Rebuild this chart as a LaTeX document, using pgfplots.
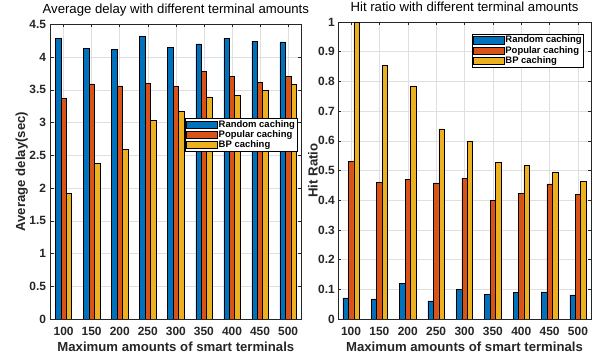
\documentclass[border=0pt]{standalone}
\usepackage{fontspec}
\setmainfont{Liberation Sans}
\usepackage{pgfplots}
\pgfplotsset{compat=1.18}
\definecolor{c1}{RGB}{0,114,189}
\definecolor{c2}{RGB}{217,83,25}
\definecolor{c3}{RGB}{237,177,32}
\definecolor{axc}{RGB}{38,38,38}
\definecolor{gridc}{RGB}{223,223,223}

\pgfplotstableread{
x rnd pop bp
1 4.28 3.37 1.92
2 4.13 3.59 2.38
3 4.12 3.56 2.59
4 4.31 3.60 3.03
5 4.15 3.55 3.17
6 4.20 3.78 3.39
7 4.29 3.70 3.41
8 4.24 3.61 3.49
9 4.23 3.71 3.58
}\delaytab

\pgfplotstableread{
x rnd pop bp
1 0.071 0.531 1.000
2 0.068 0.461 0.854
3 0.120 0.471 0.785
4 0.061 0.458 0.640
5 0.101 0.474 0.597
6 0.083 0.400 0.527
7 0.089 0.424 0.518
8 0.091 0.455 0.495
9 0.081 0.420 0.463
}\hittab

\pgfplotsset{
  mybase/.style={
    scale only axis,
    ybar,
    bar width=0.193,
    xmin=0.54, xmax=9.46, ymin=0,
    xtick={1,2,3,4,5,6,7,8,9},
    xticklabels={100,150,200,250,300,350,400,450,500},
    grid=major,
    major grid style={draw=gridc, line width=0.5bp},
    axis line style={draw=axc, line width=0.5bp},
    tick style={draw=axc, line width=0.5bp},
    tick align=inside,
    major tick length=3bp,
    tick label style={font=\fontsize{12}{14}\selectfont\bfseries, text=axc},
    xticklabel style={anchor=base, yshift=-16bp},
    yticklabel style={anchor=east, inner sep=0bp, xshift=-4.5bp},
    /pgf/number format/assume math mode=true,
    /pgf/number format/fixed,
    label style={font=\fontsize{13.2}{15}\selectfont\bfseries, text=axc},
    title style={font=\fontsize{13.2}{15}\selectfont, text=black, at={(rel axis cs:0.5,1)}, anchor=base, yshift=5bp},
    xlabel style={at={(rel axis cs:0.5,0)}, anchor=base, yshift=-32bp},
    legend cell align=left,
    legend style={draw=black, fill=white, line width=0.5bp, font=\fontsize{9.5}{11}\selectfont\bfseries,
      inner sep=1bp, row sep=0bp, nodes={inner sep=1bp},
      /tikz/every even column/.append style={column sep=0bp}},
  },
  barA/.style={fill=c1, draw=black, line width=0.5bp, bar shift=-0.193,
    legend image code/.code={\draw[fill=c1, draw=black, line width=0.5bp] (0bp,-3.6bp) rectangle (31bp,3.6bp);}},
  barB/.style={fill=c2, draw=black, line width=0.5bp, bar shift=0,
    legend image code/.code={\draw[fill=c2, draw=black, line width=0.5bp] (0bp,-3.6bp) rectangle (31bp,3.6bp);}},
  barC/.style={fill=c3, draw=black, line width=0.5bp, bar shift=0.193,
    legend image code/.code={\draw[fill=c3, draw=black, line width=0.5bp] (0bp,-3.6bp) rectangle (31bp,3.6bp);}},
}

\begin{document}
\begin{tikzpicture}
\path[use as bounding box] (0,0) rectangle (592bp,357bp);
\begin{axis}[
  mybase,
  at={(50.7bp,38bp)}, anchor=south west,
  width=250.3bp, height=294.7bp,
  ymax=4.5,
  ytick={0,0.5,1,1.5,2,2.5,3,3.5,4,4.5},
  title={Average delay with different terminal amounts},
  xlabel={Maximum amounts of smart terminals},
  ylabel={Average delay(sec)},
  ylabel style={at={(rel axis cs:-0.116,0.5)}, anchor=center},
  legend style={at={(rel axis cs:0.985,0.682)}, anchor=north east},
]
\addplot[barA] table[x=x, y=rnd] {\delaytab};
\addplot[barB] table[x=x, y=pop] {\delaytab};
\addplot[barC] table[x=x, y=bp] {\delaytab};
\legend{Random caching, Popular caching, BP caching}
\end{axis}
\begin{axis}[
  mybase,
  at={(338bp,38bp)}, anchor=south west,
  width=253bp, height=297bp,
  ymax=1,
  ytick={0,0.1,0.2,0.3,0.4,0.5,0.6,0.7,0.8,0.9,1},
  yticklabel style={xshift=1.5bp},
  title={Hit ratio with different terminal amounts},
  xlabel={Maximum amounts of smart terminals},
  ylabel={Hit Ratio},
  ylabel style={at={(rel axis cs:-0.099,0.5)}, anchor=center},
  legend style={at={(rel axis cs:0.972,0.96)}, anchor=north east},
]
\addplot[barA] table[x=x, y=rnd] {\hittab};
\addplot[barB] table[x=x, y=pop] {\hittab};
\addplot[barC] table[x=x, y=bp] {\hittab};
\legend{Random caching, Popular caching, BP caching}
\end{axis}
\end{tikzpicture}
\end{document}
